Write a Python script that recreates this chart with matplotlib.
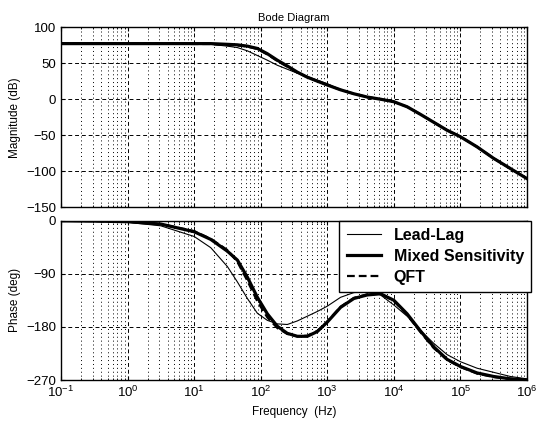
import numpy as np
import matplotlib
matplotlib.use("Agg")
import matplotlib.pyplot as plt
from matplotlib.ticker import FixedLocator, NullFormatter, LogFormatterSciNotation

plt.rcParams['font.family'] = ['Liberation Sans', 'DejaVu Sans']
plt.rcParams['mathtext.fontset'] = 'custom'
plt.rcParams['mathtext.rm'] = 'Liberation Sans'

# Frequency points, as log10(Hz)
log_freq = [-1, -0.5, 0, 0.5, 1, 1.25, 1.5, 1.65, 1.8, 1.95, 2.1, 2.25, 2.4, 2.55,
            2.7, 2.85, 3, 3.2, 3.4, 3.6, 3.8, 4, 4.2, 4.4, 4.6, 4.8, 5, 5.25,
            5.5, 5.75, 6]

# Magnitude (dB)
mag_leadlag = [77, 77, 77, 77, 77, 76, 73.5, 71.5, 67, 60.5, 54, 47, 41.5, 36,
               31.5, 26.5, 21.5, 13, 7.5, 3, 0, -3.5, -10.5, -21, -32, -43, -52,
               -66, -82, -96, -110]
mag_mixed = [77, 77, 77, 77, 77, 77, 76, 75.3, 73.5, 70.3, 63, 54, 46, 37.5,
             30.5, 25, 19.7, 13, 7.5, 3, 0, -3.5, -10.5, -21, -32, -43, -52,
             -66, -82, -96, -110]
mag_qft = [77, 77, 77, 77, 76.5, 76.5, 75, 74.5, 73, 69.5, 62, 53, 45, 37,
           30.5, 25, 19.7, 13, 7.5, 3, 0, -3.5, -10.5, -21, -32, -43, -52,
           -66, -82, -96, -110]

# Phase (deg)
ph_leadlag = [-0.5, -1, -3, -9, -27, -46, -78, -104, -132, -157, -169, -175, -176,
              -170, -162, -154, -145, -130, -122, -120, -126, -143, -162, -186,
              -208, -227, -239, -250, -257, -264, -268]
ph_mixed = [-0.5, -1, -2, -6, -19, -32, -52, -67, -96, -130, -158, -179, -191,
            -196, -196, -188, -172, -147, -132, -126, -124, -135, -158, -187,
            -214, -235, -247, -258, -264, -268, -270]
ph_qft = [-0.5, -1, -2, -6, -18, -31, -50, -70, -102, -137, -164, -182, -192,
          -196, -195, -187, -171, -146, -131, -125, -124, -136, -160, -189,
          -216, -236, -248, -259, -265, -268, -270]

labels = ['Lead-Lag', 'Mixed Sensitivity', 'QFT']
freq = 10.0 ** np.array(log_freq)

fig = plt.figure(figsize=(5.44, 4.28), dpi=100)
ax1 = fig.add_axes([0.1121, 0.5152, 0.8566, 0.4217])
ax2 = fig.add_axes([0.1121, 0.1121, 0.8566, 0.3727])

styles = [dict(color='black', lw=0.8, ls='-'),
          dict(color='black', lw=2.3, ls='-'),
          dict(color='black', lw=1.6, ls=(0, (3.5, 1.8)))]

for ys, st, lab in zip([mag_leadlag, mag_mixed, mag_qft], styles, labels):
    ax1.semilogx(freq, ys, label=lab, **st)
for ys, st, lab in zip([ph_leadlag, ph_mixed, ph_qft], styles, labels):
    ax2.semilogx(freq, ys, label=lab, **st)

decades = 10.0 ** np.arange(-1, 7)
minors = [d * k for d in decades[:-1] for k in range(2, 10)]

for ax in (ax1, ax2):
    ax.set_xlim(0.1, 1e6)
    ax.xaxis.set_major_locator(FixedLocator(decades))
    ax.xaxis.set_major_formatter(LogFormatterSciNotation())
    ax.xaxis.set_minor_locator(FixedLocator(minors))
    ax.xaxis.set_minor_formatter(NullFormatter())
    ax.grid(True, which='major', color='black', ls=(0, (4, 3)), lw=0.7)
    ax.grid(True, which='minor', axis='x', color='black', ls=(0, (1, 3)), lw=0.7)
    ax.tick_params(direction='in', which='both', labelsize=9.5, top=True, right=True,
                   length=3)
    ax.tick_params(which='minor', length=1.5)
    for s in ax.spines.values():
        s.set_linewidth(1.0)

ax1.set_ylim(-150, 100)
ax1.yaxis.set_major_locator(FixedLocator([-150, -100, -50, 0, 50, 100]))
ax1.tick_params(axis='x', labelbottom=False)
ax1.set_ylabel('Magnitude (dB)', fontsize=8.5)
ax1.set_title('Bode Diagram', fontsize=8, pad=4)

ax2.set_ylim(-270, 0)
ax2.yaxis.set_major_locator(FixedLocator([-270, -180, -90, 0]))
ax2.set_ylabel('Phase (deg)', fontsize=8.5)
ax2.set_xlabel('Frequency  (Hz)', fontsize=8.5)

leg = ax2.legend(loc='upper right', bbox_to_anchor=(1.009, 1.0), fancybox=False,
                 edgecolor='black', framealpha=1, prop={'weight': 'bold', 'size': 11.5},
                 handlelength=2.15, borderpad=0.45, labelspacing=0.38,
                 handletextpad=0.8, borderaxespad=0.0)
leg.get_frame().set_linewidth(1.0)

fig.savefig('out.png', dpi=100)
